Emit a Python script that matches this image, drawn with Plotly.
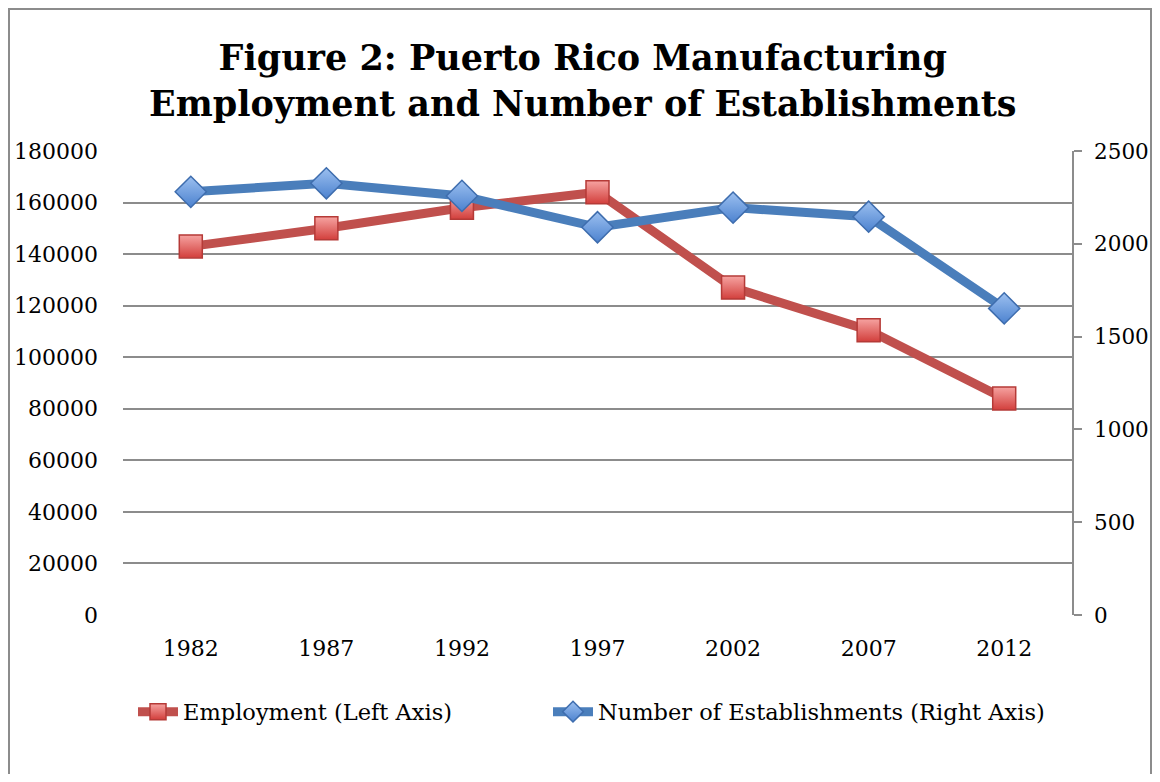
import plotly.graph_objects as go

years = ["1982", "1987", "1992", "1997", "2002", "2007", "2012"]
employment = [143000, 150000, 158000, 164000, 127000, 110500, 84000]
establishments = [2280, 2326, 2258, 2089, 2195, 2146, 1652]
left_ticks = [0, 20000, 40000, 60000, 80000, 100000, 120000, 140000, 160000, 180000]
right_ticks = [0, 500, 1000, 1500, 2000, 2500]

FONT = "DejaVu Serif"
RED = "#C0504D"
BLUE = "#4A7EBB"
GRID = "#8C8C8C"

fig = go.Figure()
fig.add_trace(go.Scatter(
    x=years, y=employment, name="Employment (Left Axis)", mode="lines+markers",
    line=dict(color=RED, width=9),
    marker=dict(symbol="square", size=23, color="#F6A3A1",
                gradient=dict(type="vertical", color="#D23F3C"),
                line=dict(color="#B53A37", width=1.5)),
    yaxis="y", legend="legend",
))
fig.add_trace(go.Scatter(
    x=years, y=establishments, name="Number of Establishments (Right Axis)", mode="lines+markers",
    line=dict(color=BLUE, width=9),
    marker=dict(symbol="diamond", size=24, color="#9CC0F0",
                gradient=dict(type="vertical", color="#4C82CF"),
                line=dict(color="#3E6DAE", width=1.5)),
    yaxis="y2", legend="legend2",
))

# page body has an 8px margin; lay out in absolute page pixels
OFF = 8
W, H = 1144, 766
L, T = 123 - OFF, 151 - OFF
pw, ph = 949, 464
R = W - L - pw
B = H - T - ph


def px(x):
    return (x - OFF - L) / pw


def py(y):
    return (T + ph - (y - OFF)) / ph


legend_common = dict(
    orientation="h", xanchor="left", yanchor="middle",
    font=dict(family=FONT, size=22.5), itemwidth=40,
    bgcolor="rgba(0,0,0,0)",
)

fig.update_layout(
    width=W, height=H,
    margin=dict(l=L, r=R, t=T, b=B, pad=0, autoexpand=False),
    paper_bgcolor="white", plot_bgcolor="white",
    font=dict(family=FONT, size=22, color="black"),
    xaxis=dict(
        type="category", range=[-0.5, 6.5], showgrid=False, zeroline=False,
        showline=False, ticks="", tickfont=dict(family=FONT, size=22),
        ticklabelstandoff=18, fixedrange=True, automargin=False,
    ),
    yaxis=dict(
        range=[0, 180000], tickvals=left_ticks, ticktext=[str(v) for v in left_ticks],
        showgrid=True, gridcolor=GRID, gridwidth=1.5, zeroline=False, showline=False,
        ticks="", ticklabelstandoff=24, tickfont=dict(family=FONT, size=22),
        automargin=False,
    ),
    yaxis2=dict(
        range=[0, 2500], tickvals=right_ticks, ticktext=[str(v) for v in right_ticks],
        overlaying="y", side="right", showgrid=False, zeroline=False,
        showline=True, linecolor=GRID, linewidth=1.5,
        ticks="outside", ticklen=8, tickcolor=GRID, tickwidth=1.5,
        ticklabelstandoff=8, tickfont=dict(family=FONT, size=21.5), automargin=False,
    ),
    legend=dict(x=px(133), y=py(712), **legend_common),
    legend2=dict(x=px(548), y=py(712), **legend_common),
    showlegend=True,
    annotations=[
        dict(
            text="<b>Figure 2: Puerto Rico Manufacturing<br>Employment and Number of Establishments</b>",
            font=dict(family=FONT, size=35, color="black"),
            xref="paper", yref="paper", x=px(583), y=py(80),
            xanchor="center", yanchor="middle", showarrow=False, align="center",
        ),
    ],
    shapes=[
        dict(type="rect", xref="paper", yref="paper",
             x0=px(OFF + 1), x1=px(OFF + W - 1), y0=py(OFF + 1), y1=py(800),
             line=dict(color="#8C8C8C", width=2), fillcolor="rgba(0,0,0,0)", layer="below"),
    ],
)

fig.write_html("out.html")
